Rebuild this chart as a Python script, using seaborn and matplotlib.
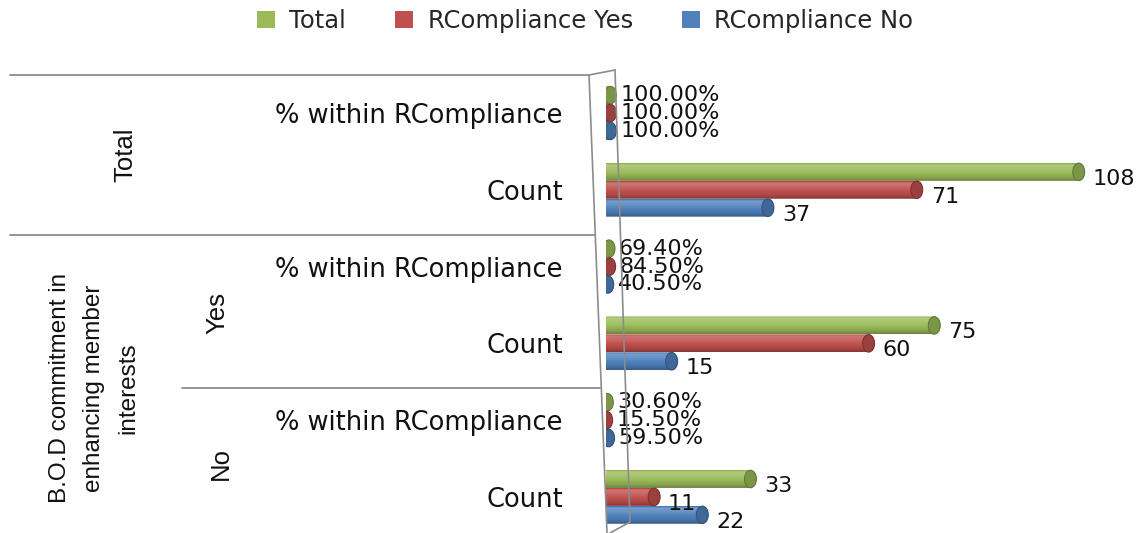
import numpy as np
import pandas as pd
import matplotlib
matplotlib.use("Agg")
import matplotlib.pyplot as plt
import matplotlib.transforms as mtransforms
from matplotlib import font_manager
from matplotlib.path import Path
from matplotlib.patches import PathPatch, Ellipse, Patch
from matplotlib.lines import Line2D
from matplotlib.colors import to_rgb
import seaborn as sns

# ---- data -------------------------------------------------------------
groups = ["Total", "Total", "Yes", "Yes", "No", "No"]
measures = ["% within RCompliance", "Count",
            "% within RCompliance", "Count",
            "% within RCompliance", "Count"]
series = ["Total", "RCompliance Yes", "RCompliance No"]
total_vals = [1.000, 108, 0.694, 75, 0.306, 33]
yes_vals = [1.000, 71, 0.845, 60, 0.155, 11]
no_vals = [1.000, 37, 0.405, 15, 0.595, 22]
colors = ["#9BBB59", "#C0504D", "#4F81BD"]
outer_title = "B.O.D commitment in\nenhancing member\ninterests"

rows = [f"{g} | {m}" for g, m in zip(groups, measures)]
df = pd.DataFrame({
    "row": rows * 3,
    "measure": measures * 3,
    "series": np.repeat(series, len(rows)),
    "value": total_vals + yes_vals + no_vals,
})


def fmt(value, measure):
    if measure.startswith("%"):
        return f"{value * 100:.2f}%"
    return f"{value:.0f}"


# ---- figure -----------------------------------------------------------
sns.set_theme(style="white")
plt.rcParams["font.family"] = ["DejaVu Sans"]

installed = {f.name for f in font_manager.fontManager.ttflist}
narrow = "Liberation Sans Narrow" if "Liberation Sans Narrow" in installed \
    else "Liberation Sans"

W, H = 1143, 533
fig = plt.figure(figsize=(W / 100, H / 100), dpi=100)
ax_left, ax_right, ax_top, ax_bot = 606, 1140, 75, 533
ax = fig.add_axes([ax_left / W, 1 - ax_bot / H,
                   (ax_right - ax_left) / W, (ax_bot - ax_top) / H])

sns.barplot(data=df, y="row", x="value", hue="series", order=rows,
            hue_order=series, palette=colors, orient="h", width=0.70,
            saturation=1, errorbar=None, legend=False, ax=ax)

XMAX = 122
YLIM = (5.47, -0.495)
ax.set_xlim(0, XMAX)
ax.set_ylim(*YLIM)
for s in ax.spines.values():
    s.set_visible(False)
ax.set_xticks([])
ax.set_xlabel("")
ax.set_ylabel("")
ax.set_yticks(range(len(rows)))
ax.set_yticklabels(measures, fontsize=18.5, color="#111111")
ax.tick_params(axis="y", length=0, pad=31)

# pixels per data unit along x, for elliptical end caps
p0 = ax.transData.transform((0, 0))
p1 = ax.transData.transform((1, 0))
px_per_x = p1[0] - p0[0]
cap_w = 12 / px_per_x


def shade(rgb, f):
    rgb = np.array(rgb)
    if f >= 1:
        return rgb + (1 - rgb) * (f - 1)
    return rgb * f


# turn each flat bar into a shaded cylinder
for container, col in zip(ax.containers, colors):
    base = to_rgb(col)
    stops = np.array([0.0, 0.1, 0.28, 0.55, 0.8, 1.0])
    facs = np.array([0.85, 1.22, 1.15, 1.0, 0.88, 0.7])
    t = np.linspace(0, 1, 64)
    f = np.interp(t, stops, facs)
    grad = np.array([np.clip(shade(base, v), 0, 1) for v in f])[:, None, :]
    for bar, meas in zip(container, measures):
        x0 = bar.get_x()
        w = bar.get_width()
        x1 = x0 + w
        h = bar.get_height()
        yc = bar.get_y() + h / 2
        a, b = cap_w / 2, h / 2
        ang_r = np.linspace(-np.pi / 2, np.pi / 2, 40)
        ang_l = np.linspace(np.pi / 2, 3 * np.pi / 2, 40)
        pts = np.vstack([
            np.column_stack([x1 + a * np.cos(ang_r), yc + b * np.sin(ang_r)]),
            np.column_stack([x0 + a * np.cos(ang_l), yc + b * np.sin(ang_l)]),
        ])
        pts = np.vstack([pts, pts[:1]])
        clip = PathPatch(Path(pts, closed=True), transform=ax.transData,
                         facecolor="none", edgecolor="none")
        ax.add_patch(clip)
        im = ax.imshow(grad, extent=[x0 - a, x1 + a, yc + b, yc - b],
                       origin="upper", aspect="auto", zorder=3,
                       interpolation="bilinear")
        im.set_clip_path(clip)
        ax.add_patch(Ellipse((x1, yc), cap_w, h * 0.98, zorder=4,
                             facecolor=shade(base, 0.8),
                             edgecolor=shade(base, 0.62), lw=0.7))
        bar.set_visible(False)

        label = fmt(w, meas)
        offset = (7, 0) if meas.startswith("%") else (10, -5)
        ax.annotate(label, xy=(x1, yc), xytext=offset,
                    textcoords="offset points", ha="left", va="center",
                    fontsize=16, color="#111111", zorder=6)

ax.set_xlim(0, XMAX)
ax.set_ylim(*YLIM)

# ---- header column: separators and group labels ----------------------
blend = mtransforms.blended_transform_factory(fig.transFigure, ax.transData)
line_kw = dict(color="#8c8c8c", lw=1.3, transform=blend, clip_on=False)
ax.add_line(Line2D([10 / W, 589 / W], [-0.5, -0.5], **line_kw))
ax.add_line(Line2D([10 / W, 595 / W], [1.59, 1.59], **line_kw))
ax.add_line(Line2D([182 / W, 600 / W], [3.58, 3.58], **line_kw))

txt_kw = dict(transform=blend, rotation=90, ha="center", va="center",
              color="#111111", family=narrow)
ax.text(125 / W, 0.55, "Total", fontsize=18.5, **txt_kw)
ax.text(217 / W, 2.6, "Yes", fontsize=18.5, **txt_kw)
ax.text(221 / W, 4.56, "No", fontsize=18.5, **txt_kw)
ax.text(94 / W, 3.58, outer_title, fontsize=17.5, linespacing=1.7,
        multialignment="center", **txt_kw)


# ---- thin side wall of the 3-D plot area -----------------------------
def fig_line(xs, ys):
    fig.add_artist(Line2D([x / W for x in xs], [1 - y / H for y in ys],
                          color="#8c8c8c", lw=1.2, zorder=0.5))


fig_line([589, 607], [75, 533])
fig_line([615, 630], [70, 522])
fig_line([589, 615], [75, 70])
fig_line([630, 610], [522, 533])

# ---- legend ----------------------------------------------------------
handles = [Patch(facecolor=c, edgecolor="none") for c in colors]
fig.legend(handles, series, loc="center", bbox_to_anchor=(585 / W, 1 - 21 / H),
           ncol=3, frameon=False, fontsize=17.5, handlelength=0.75,
           handleheight=0.75, handletextpad=0.6, columnspacing=2.0)

fig.savefig("out.png", dpi=100, facecolor="white")
